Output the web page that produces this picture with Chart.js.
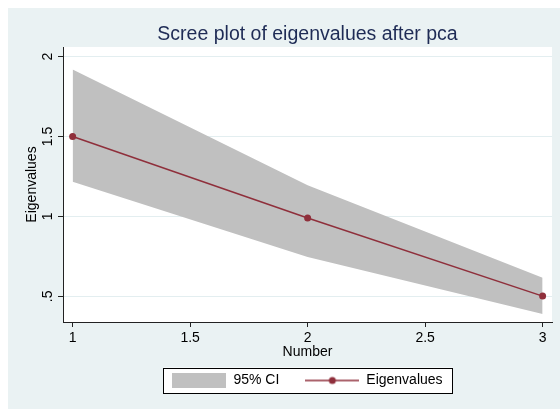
<!DOCTYPE html>
<html>
<head>
<meta charset="utf-8">
<script src="https://cdn.jsdelivr.net/npm/chart.js@4/dist/chart.umd.min.js"></script>
<style>
  html, body { margin: 0; padding: 0; background: #fff; }
  canvas { display: block; }
</style>
</head>
<body>
<canvas id="scree" width="560" height="409"></canvas>
<script>
// datos
const componentes = [1, 2, 3];
const eigenvalores = [1.5, 0.99, 0.502];
const ciInferior = [1.217, 0.746, 0.39];
const ciSuperior = [1.92, 1.195, 0.616];
const xTicks = [1, 1.5, 2, 2.5, 3];
const xTickLabels = ['1', '1.5', '2', '2.5', '3'];
const yTicks = [0.5, 1, 1.5, 2];
const yTickLabels = ['.5', '1', '1.5', '2'];

const colorLinea = '#8f2f3b';
const colorCI = '#c0c0c0';
const fondoStata = '#eaf2f3';
const fuente = 'Liberation Sans, Arial, sans-serif';

const puntos = arr => componentes.map((c, i) => ({ x: c, y: arr[i] }));

// iconos de la leyenda (caja gris y linea con marcador)
function iconoCI() {
    const c = document.createElement('canvas');
    c.width = 54; c.height = 15;
    const g = c.getContext('2d');
    g.fillStyle = colorCI;
    g.fillRect(0, 0, 54, 15);
    return c;
}
function iconoLinea() {
    const c = document.createElement('canvas');
    c.width = 54; c.height = 10;
    const g = c.getContext('2d');
    g.strokeStyle = colorLinea;
    g.lineWidth = 1.5;
    g.beginPath(); g.moveTo(0, 5); g.lineTo(54, 5); g.stroke();
    g.fillStyle = colorLinea;
    g.beginPath(); g.arc(27, 5, 3.5, 0, Math.PI * 2); g.fill();
    return c;
}

// fondo azul claro, area blanca y caja de la leyenda
const fondo = {
    id: 'fondo',
    beforeDraw(chart) {
        const { ctx, chartArea, legend } = chart;
        ctx.save();
        ctx.fillStyle = '#ffffff';
        ctx.fillRect(0, 0, chart.width, chart.height);
        ctx.fillStyle = fondoStata;
        ctx.fillRect(8, 8, chart.width - 8, chart.height - 8);
        ctx.fillStyle = '#ffffff';
        ctx.fillRect(chartArea.left, chartArea.top, chartArea.right - chartArea.left, chartArea.bottom - chartArea.top);
        const cajas = legend.legendHitBoxes;
        if (cajas && cajas.length) {
            const izq = cajas[0].left - 9;
            const ult = cajas[cajas.length - 1];
            const der = ult.left + ult.width + 10;
            const cy = cajas[0].top + 7;
            ctx.fillStyle = '#ffffff';
            ctx.fillRect(izq, cy - 13, der - izq, 25.5);
            ctx.strokeStyle = '#000000';
            ctx.lineWidth = 1;
            ctx.strokeRect(Math.round(izq) + 0.5, Math.round(cy - 13) + 0.5, Math.round(der - izq), 25);
        }
        ctx.restore();
    }
};

new Chart(document.getElementById('scree'), {
    type: 'line',
    data: {
        datasets: [
            {
                label: 'Eigenvalues',
                data: puntos(eigenvalores),
                borderColor: colorLinea,
                backgroundColor: colorLinea,
                borderWidth: 1.5,
                pointRadius: 3.5,
                pointBorderWidth: 0,
                fill: false
            },
            {
                label: 'ci inferior',
                data: puntos(ciInferior),
                borderWidth: 0,
                pointRadius: 0,
                fill: false
            },
            {
                label: '95% CI',
                data: puntos(ciSuperior),
                borderWidth: 0,
                pointRadius: 0,
                backgroundColor: colorCI,
                fill: '-1'
            }
        ]
    },
    options: {
        responsive: false,
        animation: false,
        layout: { padding: { top: 8, left: 8, right: 8, bottom: 11.5 } },
        plugins: {
            tooltip: { enabled: false },
            title: {
                display: true,
                text: 'Scree plot of eigenvalues after pca',
                color: '#1e2b55',
                fullSize: false,
                font: { family: fuente, size: 19.5, weight: 'normal' },
                padding: { top: 15.3, bottom: 0.3 }
            },
            legend: {
                position: 'bottom',
                fullSize: false,
                labels: {
                    usePointStyle: true,
                    pointStyleWidth: 54,
                    padding: 26,
                    color: '#000',
                    font: { family: fuente, size: 14 },
                    generateLabels: () => [
                        { text: '95% CI', pointStyle: iconoCI(), fillStyle: colorCI, strokeStyle: colorCI, lineWidth: 0, datasetIndex: 2 },
                        { text: 'Eigenvalues', pointStyle: iconoLinea(), fillStyle: colorLinea, strokeStyle: colorLinea, lineWidth: 0, datasetIndex: 0 }
                    ]
                }
            }
        },
        scales: {
            x: {
                type: 'linear',
                min: 0.959,
                max: 3.04,
                afterBuildTicks: eje => { eje.ticks = xTicks.map(v => ({ value: v })); },
                afterFit: eje => { eje.height = 25.5; },
                ticks: {
                    color: '#000',
                    padding: 3,
                    font: { family: fuente, size: 14 },
                    callback: (v, i) => xTickLabels[i]
                },
                grid: { drawOnChartArea: false, tickLength: 5, tickColor: '#222' },
                border: { color: '#222', width: 1 },
                title: {
                    display: true,
                    text: 'Number',
                    color: '#000',
                    font: { family: fuente, size: 14 },
                    padding: { top: 0, bottom: -12.6 }
                }
            },
            y: {
                type: 'linear',
                min: 0.34,
                max: 2.06,
                afterBuildTicks: eje => { eje.ticks = yTicks.map(v => ({ value: v })); },
                afterFit: eje => { eje.width = 55; },
                ticks: {
                    color: '#000',
                    padding: 0,
                    minRotation: 90,
                    maxRotation: 90,
                    crossAlign: 'center',
                    font: { family: fuente, size: 14 },
                    callback: (v, i) => yTickLabels[i]
                },
                grid: { color: '#e3eef0', tickLength: 5, tickColor: '#222' },
                border: { color: '#222', width: 1 },
                title: {
                    display: true,
                    text: 'Eigenvalues',
                    color: '#000',
                    font: { family: fuente, size: 14 },
                    padding: { top: 15.6, bottom: 0 }
                }
            }
        }
    },
    plugins: [fondo]
});
</script>
</body>
</html>
